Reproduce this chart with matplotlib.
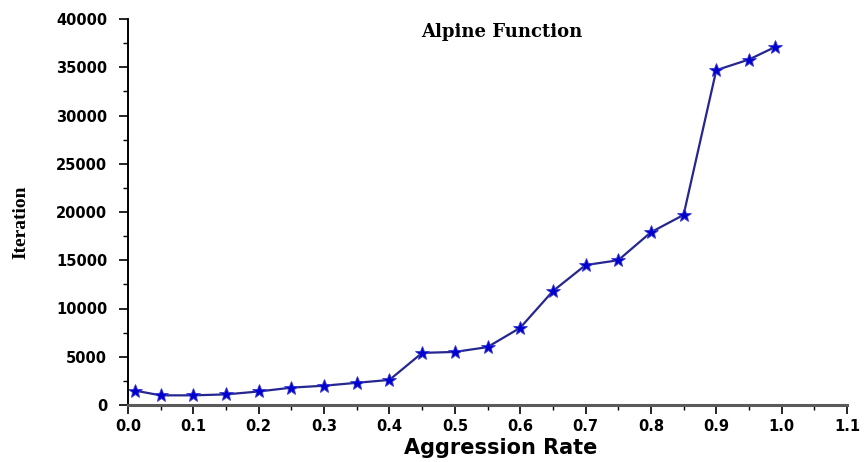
import matplotlib
matplotlib.use("Agg")
import matplotlib.pyplot as plt
from matplotlib.ticker import MultipleLocator

# Aggression rate vs. iterations needed on the Alpine function
aggression_rate = [0.01, 0.05, 0.10, 0.15, 0.20, 0.25, 0.30, 0.35, 0.40, 0.45,
                   0.50, 0.55, 0.60, 0.65, 0.70, 0.75, 0.80, 0.85, 0.90, 0.95, 0.99]
iterations = [1500, 1000, 1000, 1100, 1400, 1800, 2000, 2300, 2600, 5400,
              5500, 6000, 8000, 11800, 14500, 15000, 17900, 19700, 34700, 35800, 37100]

fig = plt.figure(figsize=(8.65, 4.62), dpi=100)
ax = fig.add_axes([128 / 865, 1 - 405 / 462, 719 / 865, 386 / 462])

ax.plot(aggression_rate, iterations, color="#26268f", lw=1.6,
        marker="*", markersize=10, markerfacecolor="#0000cc",
        markeredgecolor="#3a3ad0", markeredgewidth=0.6)

ax.set_xlim(0, 1.1)
ax.set_ylim(0, 40000)
ax.xaxis.set_major_locator(MultipleLocator(0.1))
ax.xaxis.set_minor_locator(MultipleLocator(0.05))
ax.yaxis.set_major_locator(MultipleLocator(5000))
ax.yaxis.set_minor_locator(MultipleLocator(2500))

for s in ("top", "right"):
    ax.spines[s].set_visible(False)
ax.spines["left"].set_linewidth(1.4)
ax.spines["bottom"].set_linewidth(2.2)
ax.spines["bottom"].set_color("#5a5a5a")

ax.tick_params(axis="both", which="major", direction="out", length=6.5, width=1.2)
ax.tick_params(axis="both", which="minor", direction="out", length=3.5, width=1.0)
ax.tick_params(axis="x", which="major", pad=3.5)
ax.tick_params(axis="y", which="major", pad=8.5)
ax.set_xticklabels([f"{v:.1f}" for v in ax.get_xticks()])

for lbl in ax.get_xticklabels() + ax.get_yticklabels():
    lbl.set_fontfamily("DejaVu Sans")
    lbl.set_fontweight("bold")
    lbl.set_fontsize(10.5)

ax.set_xlabel("Aggression Rate", fontfamily="DejaVu Sans", fontweight="bold",
              fontsize=15, va="center")
ax.xaxis.set_label_coords(0.519, -0.1114)
ax.set_ylabel("Iteration", fontfamily="Liberation Serif", fontweight="bold",
              fontsize=14, va="center")
ax.yaxis.set_label_coords(-0.1488, 0.474)
ax.text(0.52, 0.967, "Alpine Function", transform=ax.transAxes, ha="center", va="center",
        fontfamily="DejaVu Serif", fontweight="bold", fontsize=13)

fig.savefig("out.png", dpi=100)
